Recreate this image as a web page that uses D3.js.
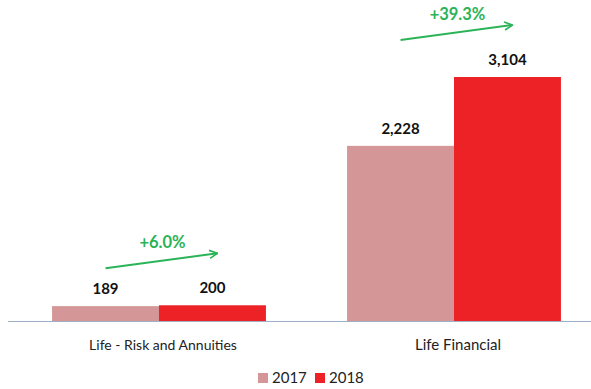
<!DOCTYPE html>
<html>
<head>
<meta charset="utf-8">
<script src="https://cdn.jsdelivr.net/npm/d3@7"></script>
<style>
  body { margin: 0; background: #fff; }
  svg { display: block; font-family: Lato, "Noto Sans", sans-serif; }
</style>
</head>
<body>
<div id="chart"></div>
<script>
// Chart data
const categories = ["Life - Risk and Annuities", "Life Financial"];
const years = ["2017", "2018"];
const values2017 = [189, 2228];
const values2018 = [200, 3104];
const growthLabels = ["+6.0%", "+39.3%"];

const colors = { "2017": "#d49696", "2018": "#ec2227" };
const green = "#2bb357";

const W = 591, H = 389;
const baseY = 321;

const svg = d3.select("#chart").append("svg")
    .attr("width", W)
    .attr("height", H);

// Scales
const x0 = d3.scaleBand().domain(categories).range([11.5, 601.5]).paddingInner(0.275).paddingOuter(0.1375);
const x1 = d3.scaleBand().domain(years).range([0, x0.bandwidth()]);
const y = d3.scaleLinear().domain([0, 3104]).range([baseY, 77]);

const rows = categories.map((c, i) => ({
    cat: c,
    vals: [
        { year: "2017", v: values2017[i] },
        { year: "2018", v: values2018[i] }
    ],
    growth: growthLabels[i]
}));

// Bars
const groups = svg.selectAll(".grp").data(rows).enter().append("g")
    .attr("class", "grp")
    .attr("transform", d => `translate(${x0(d.cat)},0)`);

groups.selectAll("rect").data(d => d.vals).enter().append("rect")
    .attr("x", d => x1(d.year))
    .attr("y", d => y(d.v))
    .attr("width", x1.bandwidth())
    .attr("height", d => baseY - y(d.v))
    .attr("fill", d => colors[d.year]);

// Value labels
groups.selectAll(".val").data(d => d.vals).enter().append("text")
    .attr("class", "val")
    .attr("x", d => x1(d.year) + x1.bandwidth() / 2)
    .attr("y", d => y(d.v) - 12)
    .attr("text-anchor", "middle")
    .attr("font-size", 15)
    .attr("font-weight", "bold")
    .attr("fill", "#111")
    .text(d => d3.format(",")(d.v));

// Axis line
svg.append("line")
    .attr("x1", 8).attr("x2", W)
    .attr("y1", baseY + 0.5).attr("y2", baseY + 0.5)
    .attr("stroke", "#9fb0c4")
    .attr("stroke-width", 1.2);

// Category labels
const catSizes = [14, 15];
svg.selectAll(".cat").data(categories).enter().append("text")
    .attr("class", "cat")
    .attr("x", d => x0(d) + x0.bandwidth() / 2 + 4)
    .attr("y", 350)
    .attr("text-anchor", "middle")
    .attr("font-size", (d, i) => catSizes[i])
    .attr("fill", "#222")
    .text(d => d);

// Growth arrows
const defs = svg.append("defs");
defs.append("marker")
    .attr("id", "arrow")
    .attr("viewBox", "0 0 10 10")
    .attr("refX", 9).attr("refY", 5)
    .attr("markerWidth", 5).attr("markerHeight", 5)
    .attr("orient", "auto")
    .append("path")
    .attr("d", "M1,1 L9,5 L1,9")
    .attr("fill", "none")
    .attr("stroke", green)
    .attr("stroke-width", 1.6);

rows.forEach(d => {
    const top = y(d3.max(d.vals, v => v.v));
    const xs = x0(d.cat) + x1("2017") + x1.bandwidth() / 2;
    const xe = x0(d.cat) + x1("2018") + x1.bandwidth() / 2 + 5;
    svg.append("line")
        .attr("x1", xs).attr("y1", top - 37)
        .attr("x2", xe).attr("y2", top - 52)
        .attr("stroke", green)
        .attr("stroke-width", 2)
        .attr("marker-end", "url(#arrow)");
    svg.append("text")
        .attr("x", (xs + xe) / 2 + 1)
        .attr("y", top - 57)
        .attr("text-anchor", "middle")
        .attr("font-size", 16.5)
        .attr("font-weight", "bold")
        .attr("fill", green)
        .text(d.growth);
});

// Legend
const legend = svg.append("g").attr("transform", "translate(258,373)");
const legX = [0, 57];
years.forEach((yr, i) => {
    legend.append("rect")
        .attr("x", legX[i]).attr("y", 0)
        .attr("width", 10).attr("height", 10)
        .attr("fill", colors[yr]);
    legend.append("text")
        .attr("x", legX[i] + 14).attr("y", 10)
        .attr("font-size", 15)
        .attr("fill", "#222")
        .text(yr);
});
</script>
</body>
</html>
